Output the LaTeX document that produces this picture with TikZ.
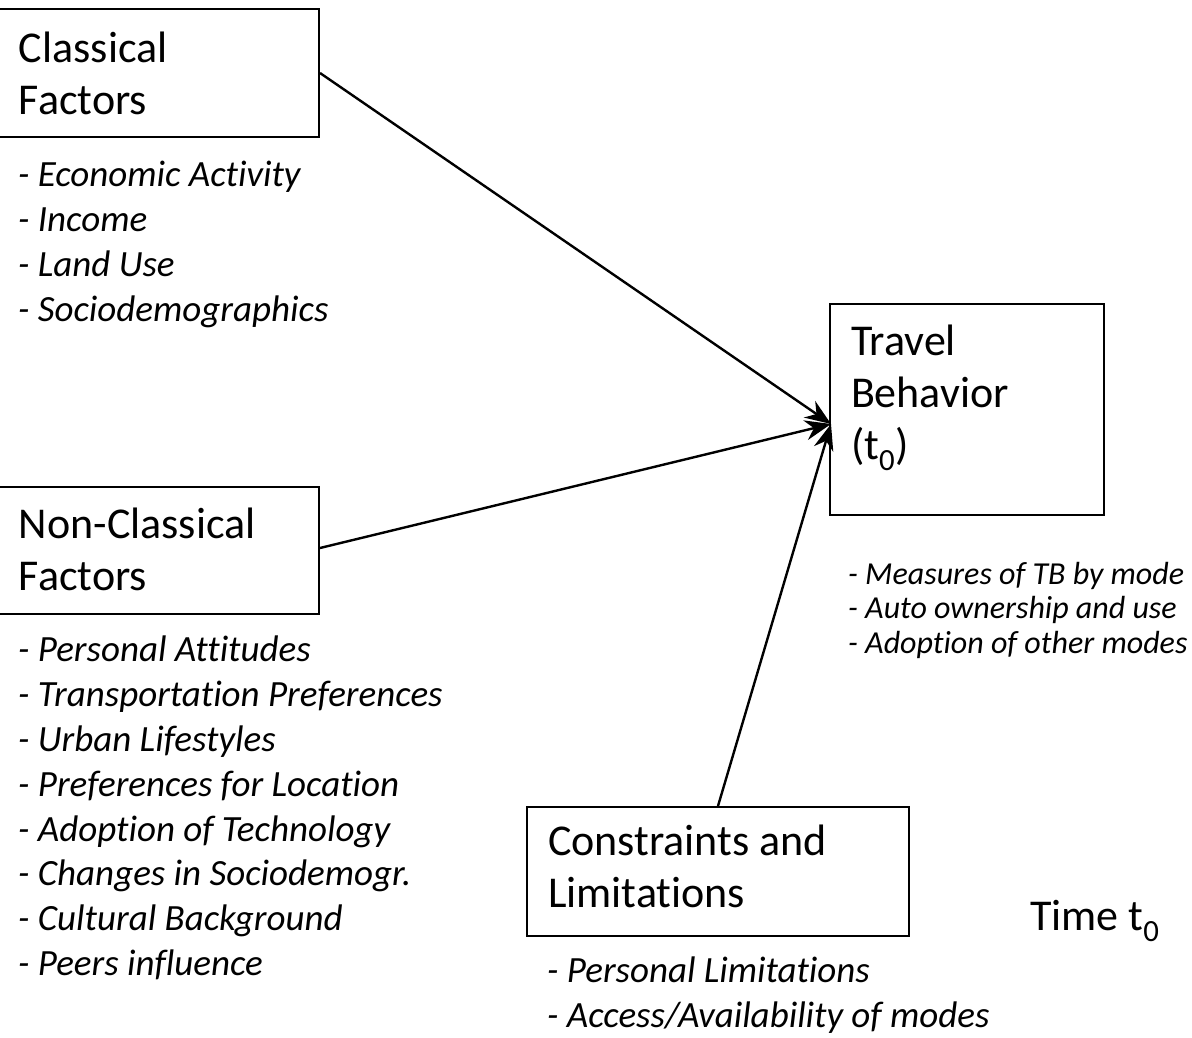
\documentclass[tikz,border=0pt]{standalone}
\usepackage{fontspec}
\setmainfont[Ligatures=NoCommon]{Carlito}
\usetikzlibrary{arrows.meta}
\tikzset{
  box/.style={draw, line width=2pt, anchor=north west, inner sep=0pt},
  boxfont/.style={font=\fontsize{44}{52}\selectfont},
  listfont/.style={font=\fontsize{37}{44.8}\selectfont\itshape},
  smalllist/.style={font=\fontsize{32}{34.5}\selectfont\itshape},
  items/.style={anchor=north west, inner sep=0pt, align=left},
  conn/.style={line width=2.4pt, -{Stealth[length=26pt,width=20pt]}}
}
\begin{document}
\begin{tikzpicture}[x=1pt,y=-1pt]
\useasboundingbox (0,0) rectangle (1192,1038);
\node[box, boxfont] (cf) at (-2,8) {\parbox[t][128pt][t]{320pt}{\leftskip=20pt\vspace*{23pt}Classical\\Factors}};
\node[box, boxfont] (ncf) at (-2,486) {\parbox[t][127pt][t]{320pt}{\leftskip=20pt\vspace*{21pt}Non-Classical\\Factors}};
\node[box, boxfont] (tb) at (829,303) {\parbox[t][211pt][t]{274pt}{\leftskip=21pt\vspace*{21pt}Travel\\Behavior\\(t\textsubscript{0})}};
\node[box, boxfont] (cl) at (526,806) {\parbox[t][129pt][t]{382pt}{\leftskip=21pt\vspace*{18pt}Constraints and\\Limitations}};

\node[items, listfont] (cfl) at (18,161) {- Economic Activity\\- Income\\- Land Use\\- Sociodemographics};
\node[items, listfont] (ncfl) at (18,636) {- Personal Attitudes\\- Transportation Preferences\\- Urban Lifestyles\\- Preferences for Location\\- Adoption of Technology\\- Changes in Sociodemogr.\\- Cultural Background\\- Peers influence};
\node[items, smalllist] (tbl) at (848,562) {- Measures of TB by mode\\- Auto ownership and use\\- Adoption of other modes};
\node[items, listfont] (cll) at (547,957) {- Personal Limitations\\- Access/Availability of modes};
\node[anchor=west, inner sep=0pt, boxfont] (time) at (1030,921) {Time t\textsubscript{0}};

\coordinate (tip) at (831,424);
\draw[conn] (cf.north east |- 0,73) -- (tip);
\draw[conn] (ncf.north east |- 0,548) -- (tip);
\draw[conn] (718,806) -- (tip);
\end{tikzpicture}
\end{document}
